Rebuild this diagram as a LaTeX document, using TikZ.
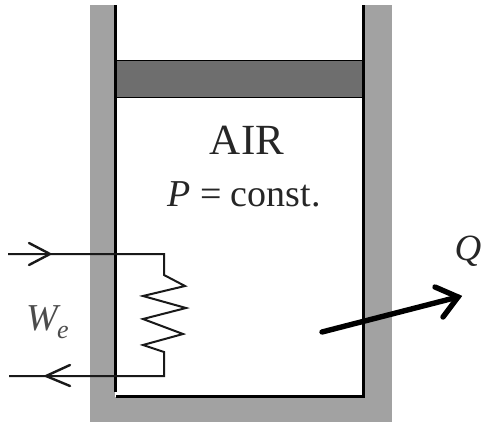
\documentclass[tikz,border=0pt]{standalone}
\usepackage{fontspec}
\setmainfont{Liberation Serif}
\definecolor{wallgray}{HTML}{A2A2A2}
\definecolor{pistongray}{HTML}{6E6E6E}
\tikzset{
  wall/.style={fill=wallgray,draw=none},
  liner/.style={draw=black,line width=3pt,line cap=butt},
  wire/.style={draw=black!90,line width=2pt,line join=miter},
  barb/.style={draw=black!90,line width=2.4pt,line cap=round},
  heat/.style={draw=black,line width=5.4pt,line cap=round},
  lbl/.style={inner sep=0pt,outer sep=0pt,text=black!85}
}
\begin{document}
\begin{tikzpicture}[x=1pt,y=-1pt]
\useasboundingbox (0,0) rectangle (485,423);
% walls
\fill[wall] (90,5) rectangle (115,422);
\fill[wall] (364,5) rectangle (392,422);
\fill[wall] (90,397) rectangle (392,422);
% piston
\fill[pistongray] (116,60) rectangle (362,97);
\draw[black,line width=1pt] (116,60.5) -- (362,60.5) (116,97) -- (362,97);
% inner liner
\draw[liner] (115,5) -- (115,392);
\draw[liner] (116,396) -- (364,396) (363,5) -- (363,397.5);
% texts
\node[lbl,font=\fontsize{43}{43}\selectfont] (air) at (247,140) {AIR};
\node[lbl,font=\fontsize{38}{38}\selectfont,anchor=base] (pc) at (244,206) {\textit{P} = const.};
\node[lbl,font=\fontsize{37}{37}\selectfont\itshape] (q) at (468,251) {Q};
\node[lbl,text=black!70,font=\fontsize{38}{38}\selectfont\itshape,anchor=base west] (w) at (26,330) {W};
\node[lbl,text=black!70,font=\fontsize{26}{26}\selectfont\itshape,anchor=base west] (e) at (57,338) {e};
% wiring
\coordinate (tstart) at (8,254);
\coordinate (tc) at (164,254);
\coordinate (bc) at (164,376);
\coordinate (bend) at (9,376);
\coordinate (ttip) at (50,254);
\coordinate (btip) at (46,376);
\draw[wire] (tstart) -- (tc) -- (164,275) -- (185,286) -- (143,296) -- (186,308) -- (143,319) -- (183,334) -- (143,345) -- (164,352) -- (bc) -- (bend);
\draw[barb] (29,243) -- (ttip) -- (29,265);
\draw[barb] (70,365) -- (btip) -- (70,386);
% heat arrow
\coordinate (qs) at (322,332);
\coordinate (qe) at (458,297);
\draw[heat] (qs) -- (qe);
\draw[heat,line join=miter] (435,287) -- (qe) -- (443,317);
\end{tikzpicture}
\end{document}
